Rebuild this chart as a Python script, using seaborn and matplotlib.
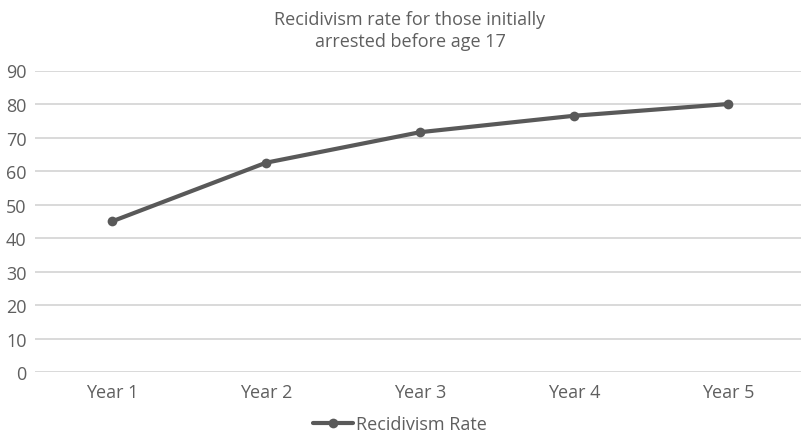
import matplotlib
matplotlib.use("Agg")
import matplotlib.pyplot as plt
import seaborn as sns
import pandas as pd

years = ["Year 1", "Year 2", "Year 3", "Year 4", "Year 5"]
rates = [45, 62.5, 71.6, 76.5, 80]
series_name = "Recidivism Rate"
title = "Recidivism rate for those initially\narrested before age 17"
y_ticks = [0, 10, 20, 30, 40, 50, 60, 70, 80, 90]

sns.set_theme(style="white")
plt.rcParams["font.family"] = ["Open Sans", "DejaVu Sans"]

text_color = "#5f5f5f"
line_color = "#595959"
grid_color = "#d9d9d9"

df = pd.DataFrame({"year": years, "rate": rates, "series": series_name})

fig = plt.figure(figsize=(8.01, 4.39), dpi=100)
ax = fig.add_axes([35 / 801, (439 - 373.3) / 439, 770 / 801, (373.3 - 71.5) / 439])

sns.lineplot(data=df, x="year", y="rate", hue="series", palette=[line_color],
             marker="o", markersize=7, markeredgewidth=0, linewidth=3,
             ax=ax, sort=False)

ax.set_xlim(-0.5, len(years) - 0.5)
ax.set_ylim(0, 90)
ax.set_yticks(y_ticks)
ax.yaxis.grid(True, color=grid_color, linewidth=1.4)
ax.xaxis.grid(False)
ax.set_axisbelow(True)
for s in ax.spines.values():
    s.set_visible(False)
ax.tick_params(axis="both", length=0, labelsize=13, colors=text_color)
ax.tick_params(axis="y", pad=6)
ax.tick_params(axis="x", pad=8)
ax.set_xlabel("")
ax.set_ylabel("")

fig.text(410 / 801, 1 - 31 / 439, title, ha="center", va="center",
         fontsize=13, color=text_color, linespacing=1.35)

leg = ax.legend(loc="center", bbox_to_anchor=(400 / 801, 1 - 425 / 439),
                bbox_transform=fig.transFigure, frameon=False, fontsize=13,
                handlelength=2.2, handletextpad=0.15, labelcolor=text_color)

fig.savefig("out.png", dpi=100)
